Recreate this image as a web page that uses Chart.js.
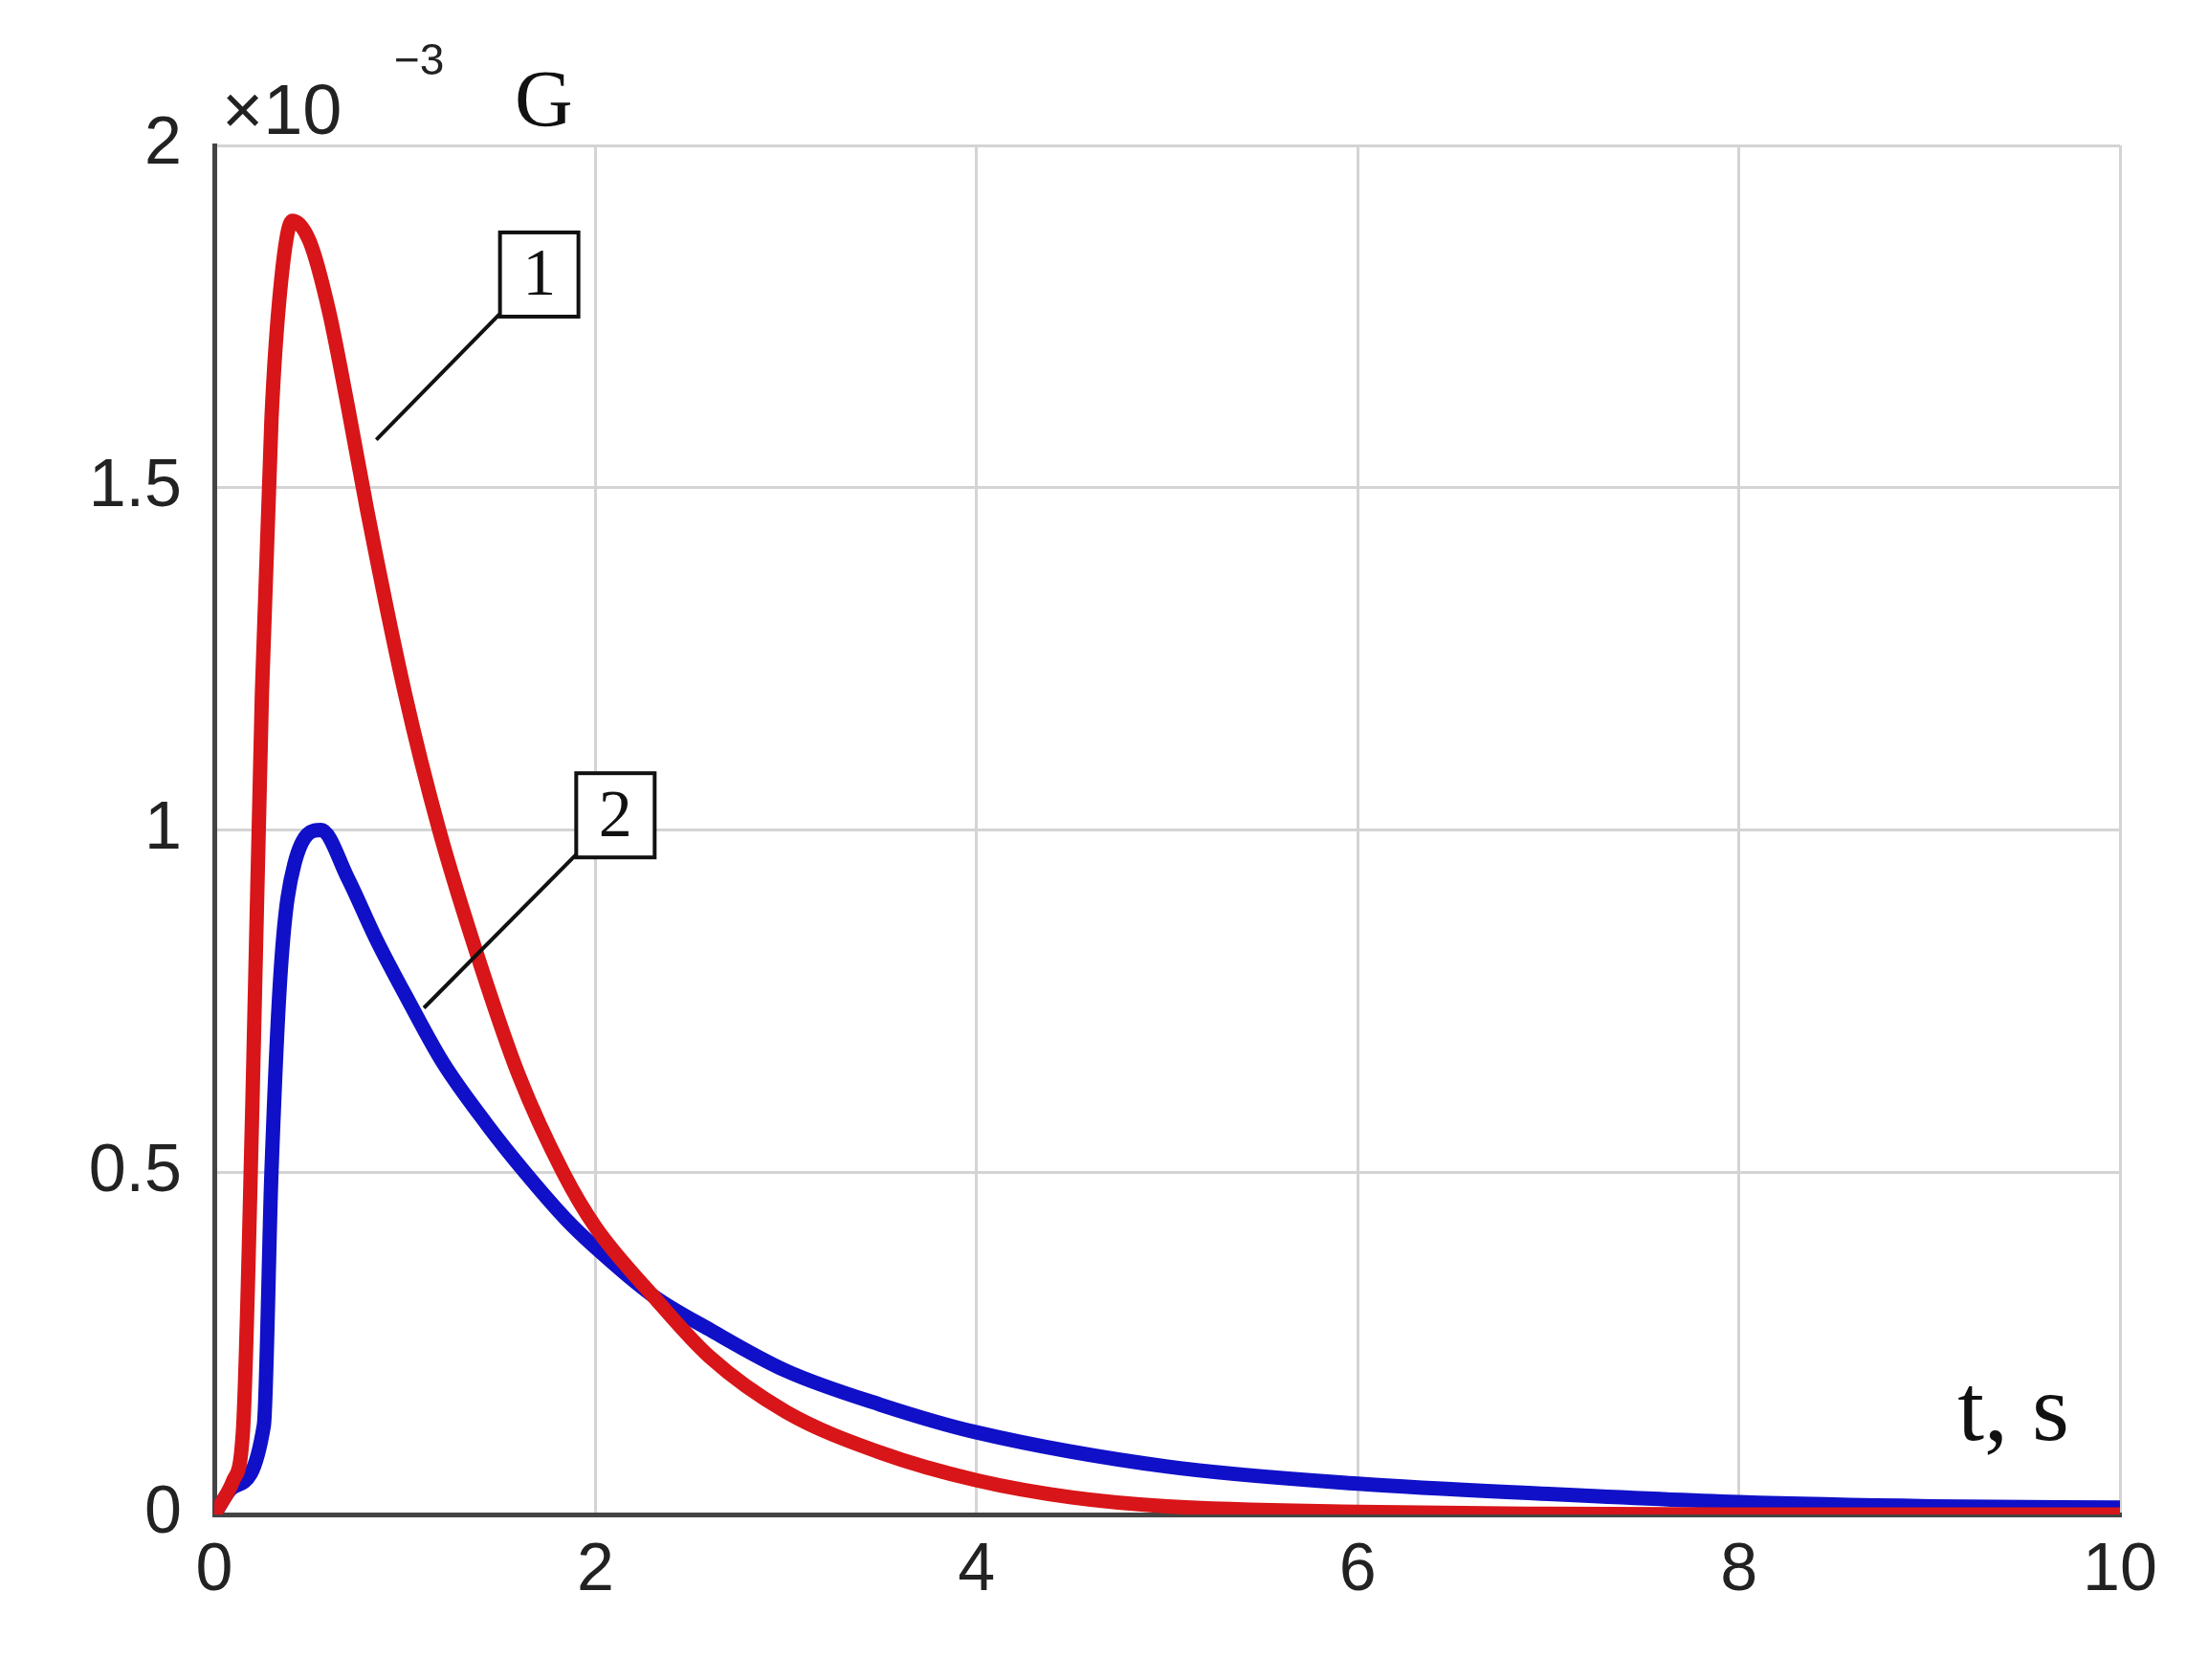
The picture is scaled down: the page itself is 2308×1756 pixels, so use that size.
<!DOCTYPE html>
<html>
<head>
<meta charset="utf-8">
<script src="https://cdn.jsdelivr.net/npm/chart.js@4.4.0/dist/chart.umd.min.js"></script>
<style>
html,body{margin:0;padding:0;background:#fff}
#wrap{width:2308px;height:1756px}
</style>
</head>
<body>
<div id="wrap"><canvas id="myChart"></canvas></div>
<script>
// values are in units of 1e-3
const redT = [0, 0.1, 0.15, 0.2, 0.25, 0.3, 0.35, 0.41, 0.5, 0.6, 0.7, 0.8, 1.0, 1.18, 1.4, 1.6, 1.83, 2.0, 2.3, 2.6, 3.0, 3.5, 4, 4.5, 5, 6, 7, 8, 10]
const redG = [0, 0.05, 0.12, 0.6, 1.2, 1.6, 1.8, 1.89, 1.86, 1.76, 1.62, 1.47, 1.2, 1.0, 0.8, 0.64, 0.5, 0.42, 0.32, 0.23, 0.15, 0.09, 0.05, 0.025, 0.012, 0.004, 0.001, 0, 0]
const blueT = [0, 0.1, 0.26, 0.3, 0.35, 0.42, 0.56, 0.7, 0.85, 1.02, 1.2, 1.43, 1.63, 1.85, 2.0, 2.3, 2.6, 3.0, 3.5, 4, 5, 6, 7, 8, 9, 10]
const blueG = [0, 0.04, 0.13, 0.5, 0.8, 0.95, 1.0, 0.93, 0.84, 0.75, 0.66, 0.57, 0.5, 0.43, 0.39, 0.32, 0.27, 0.21, 0.16, 0.12, 0.07, 0.045, 0.03, 0.018, 0.012, 0.01]
const xTicks = [0, 2, 4, 6, 8, 10]
const yTicks = [0, 0.5, 1, 1.5, 2]

const toPts = (xs, ys) => xs.map((x, i) => ({x: x, y: ys[i]}))

// boxed curve numbers with leader lines, and axis captions
const notes = {
  id: 'notes',
  afterDatasetsDraw(chart) {
    const c = chart.ctx, xs = chart.scales.x, ys = chart.scales.y
    const box = (label, bx, by, lx, ly) => {
      const px = xs.getPixelForValue(bx), py = ys.getPixelForValue(by)
      c.save()
      c.strokeStyle = '#111'
      c.lineWidth = 4
      c.beginPath()
      c.moveTo(px - 40, py + 40)
      c.lineTo(xs.getPixelForValue(lx), ys.getPixelForValue(ly))
      c.stroke()
      c.fillStyle = '#fff'
      c.fillRect(px - 40, py - 45, 82, 88)
      c.strokeRect(px - 40, py - 45, 82, 88)
      c.fillStyle = '#111'
      c.font = '70px "Liberation Serif"'
      c.textAlign = 'center'
      c.textBaseline = 'middle'
      c.fillText(label, px + 1, py + 2)
      c.restore()
    }
    box('1', 1.7, 1.81, 0.85, 1.57)
    box('2', 2.1, 1.02, 1.1, 0.74)
    c.save()
    c.fillStyle = '#222'
    c.font = '74px "Liberation Sans"'
    c.textBaseline = 'alphabetic'
    c.fillText('\u00d710', 232, 140)
    c.font = '46px "Liberation Sans"'
    c.fillText('\u22123', 412, 78)
    c.fillStyle = '#111'
    c.font = '84px "Liberation Serif"'
    c.fillText('G', 538, 132)
    c.font = '100px "Liberation Serif"'
    c.textAlign = 'right'
    c.fillText('t, s', 2163, 1505)
    c.restore()
  }
}

const ctx = document.getElementById('myChart')

new Chart(ctx, {
  type: 'line',
  data: {
    datasets: [{
      label: '1',
      data: toPts(redT, redG),
      borderColor: '#d81518',
      borderWidth: 15,
      pointRadius: 0,
      cubicInterpolationMode: 'monotone'
    }, {
      label: '2',
      data: toPts(blueT, blueG),
      borderColor: '#1010c8',
      borderWidth: 15,
      pointRadius: 0,
      cubicInterpolationMode: 'monotone'
    }]
  },
  options: {
    responsive: true,
    maintainAspectRatio: false,
    animation: false,
    layout: {padding: {left: 0, right: 92, top: 152, bottom: 0}},
    plugins: {legend: {display: false}, tooltip: {enabled: false}},
    scales: {
      x: {
        type: 'linear', min: 0, max: 10,
        afterBuildTicks: s => { s.ticks = xTicks.map(v => ({value: v})) },
        afterFit: s => { s.height = 173 },
        grid: {color: '#d4d4d4', lineWidth: 3, drawTicks: false},
        border: {color: '#444', width: 5},
        ticks: {color: '#222', font: {family: 'Liberation Sans', size: 70}, padding: 18, callback: v => String(v)}
      },
      y: {
        type: 'linear', min: 0, max: 2,
        afterBuildTicks: s => { s.ticks = yTicks.map(v => ({value: v})) },
        afterFit: s => { s.width = 224 },
        grid: {color: '#d4d4d4', lineWidth: 3, drawTicks: false},
        border: {color: '#444', width: 5},
        ticks: {color: '#222', font: {family: 'Liberation Sans', size: 70}, padding: 34, callback: v => String(v)}
      }
    }
  },
  plugins: [notes]
})
</script>
</body>
</html>
